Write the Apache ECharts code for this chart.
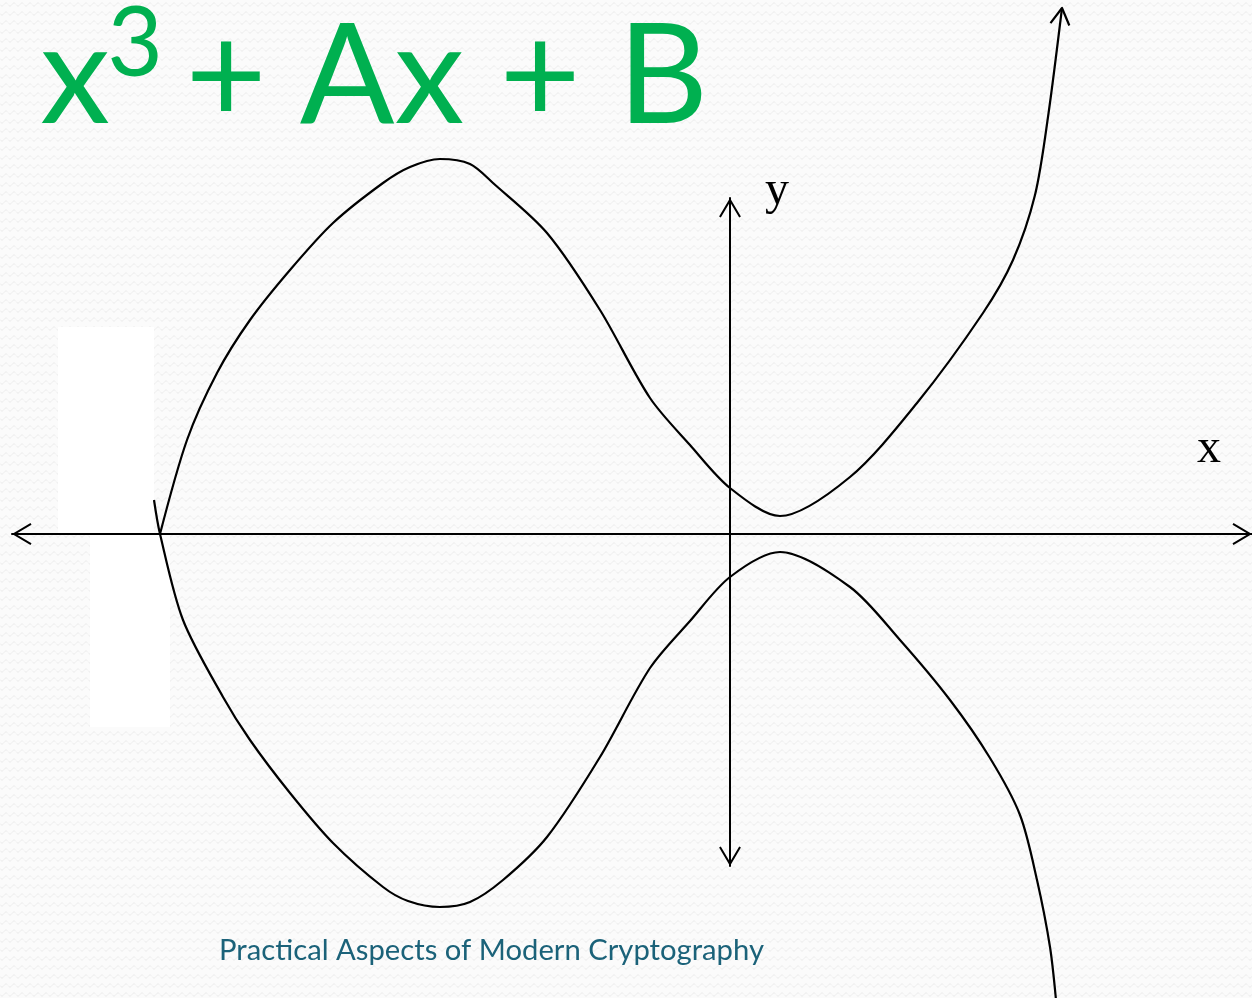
<!DOCTYPE html>
<html><head><meta charset="utf-8">
<script src="https://cdn.jsdelivr.net/npm/echarts@6/dist/echarts.min.js"></script>
<style>html,body{margin:0;padding:0;background:#fafafa}#c{width:1252px;height:998px}</style>
</head><body><div id="c"></div>
<script>
// ---- text ----
const titleParts = ['x', '3', '+', 'Ax', '+', 'B'];
const footerText = 'Practical Aspects of Modern Cryptography';
const xAxisName = 'x';
const yAxisName = 'y';

// ---- axis extents (data units, origin at the axes crossing) ----
const xRange = [-7.18, 5.22];
const yRange = [-3.32, 3.36];

// ---- hand-drawn curve, upper branch ----
const upperX = [-5.70, -5.43, -5.13, -4.80, -4.40, -3.97, -3.47, -3.20, -2.90, -2.60, -2.37, -1.83, -1.30, -0.80, -0.40, 0.00, 0.50, 1.20, 1.87, 2.53, 2.83, 3.05, 3.18, 3.32];
const upperY = [0.00, 0.94, 1.61, 2.14, 2.64, 3.11, 3.51, 3.67, 3.75, 3.70, 3.51, 3.01, 2.24, 1.36, 0.89, 0.46, 0.18, 0.57, 1.31, 2.21, 2.74, 3.39, 4.17, 5.26];

// ---- hand-drawn curve, lower branch ----
const lowerX = [-5.76, -5.70, -5.47, -5.07, -4.80, -4.40, -3.97, -3.47, -3.22, -2.90, -2.60, -2.27, -1.83, -1.30, -0.80, -0.40, 0.00, 0.50, 1.20, 1.70, 2.20, 2.60, 2.90, 3.07, 3.20, 3.26];
const lowerY = [0.34, 0.00, -0.86, -1.63, -2.06, -2.59, -3.09, -3.53, -3.67, -3.73, -3.68, -3.46, -3.03, -2.23, -1.34, -0.87, -0.43, -0.18, -0.53, -1.06, -1.66, -2.24, -2.81, -3.46, -4.13, -4.66];

const zip = (xs, ys) => xs.map((x, i) => [x, ys[i]]);
const upper = zip(upperX, upperY);
const lower = zip(lowerX, lowerY);

// open arrow head at the end of the upper branch, derived from its last segment
function chevron(tip, prev, len, deg) {
  const dx = prev[0] - tip[0], dy = prev[1] - tip[1];
  const d = Math.hypot(dx, dy), ux = dx / d, uy = dy / d, a = deg * Math.PI / 180;
  const arm = s => [tip[0] + len * (ux * Math.cos(s * a) - uy * Math.sin(s * a)),
                    tip[1] + len * (ux * Math.sin(s * a) + uy * Math.cos(s * a))];
  return [arm(1), tip, arm(-1)];
}
const curveArrow = chevron(upper[upper.length - 1], upper[upper.length - 2], 0.19, 30);

// ---- background texture ----
const pat = document.createElement('canvas');
pat.width = 8; pat.height = 9;
(function () {
  const g = pat.getContext('2d');
  g.fillStyle = '#fbfbfb'; g.fillRect(0, 0, 8, 9);
  g.strokeStyle = '#ececec'; g.lineWidth = 1;
  g.beginPath();
  for (let x = 0; x <= 8; x += 0.5) {
    const y = 4.5 + 1.6 * Math.sin(x / 8 * 2 * Math.PI);
    if (x === 0) g.moveTo(x, y); else g.lineTo(x, y);
  }
  g.stroke();
})();

// footer font fitted to its width in the slide
const FOOT_FONT = 'Lato';
function fitSize(text, family, width, weight) {
  const c = document.createElement('canvas').getContext('2d');
  c.font = (weight || 'normal') + ' 100px ' + family;
  return 100 * width / c.measureText(text).width;
}
const footSize = fitSize(footerText, FOOT_FONT, 545);

const chev = 'path://M0,0 L10.9,18.5 L9.2,19.5 L0,3.9 L-9.2,19.5 L-10.9,18.5 Z';
const axisCommon = {
  type: 'value',
  axisLine: { show: true, onZero: true, lineStyle: { color: '#000', width: 2 },
              symbol: [chev, chev], symbolSize: [21.8, 19.5], symbolOffset: [9.75, -9.75] },
  axisTick: { show: false }, axisLabel: { show: false }, splitLine: { show: false }
};

const green = '#00b050';
const tFont = 'Lato';
const titleEls = [
  { t: titleParts[0], cx: 75, cy: 78, size: 140 },
  { t: titleParts[1], cx: 135, cy: 45, size: 96 },
  { t: titleParts[2], cx: 226, cy: 78, size: 140 },
  { t: titleParts[3], cx: 382, cy: 78, size: 140 },
  { t: titleParts[4], cx: 540, cy: 78, size: 140 },
  { t: titleParts[5], cx: 663, cy: 78, size: 140 }
].map(p => ({
  type: 'text', z: 10,
  style: { text: p.t, x: p.cx, y: p.cy, fill: green, font: 'normal ' + p.size + 'px ' + tFont,
           align: 'center', verticalAlign: 'middle' }
}));

const lineSeries = (data, smooth) => ({
  type: 'line', data: data, smooth: smooth,
  showSymbol: false, symbol: 'none', clip: false,
  lineStyle: { color: '#000', width: 2.2, join: 'round' }
});

const chart = echarts.init(document.getElementById('c'), null, { renderer: 'canvas' });
chart.setOption({
  animation: false,
  backgroundColor: { image: pat, repeat: 'repeat' },
  grid: { left: 12, right: 0, top: 198, bottom: 132, containLabel: false, outerBoundsMode: 'none' },
  xAxis: Object.assign({}, axisCommon, { min: xRange[0], max: xRange[1] }),
  yAxis: Object.assign({}, axisCommon, { min: yRange[0], max: yRange[1] }),
  graphic: [
    { type: 'rect', z: -1, shape: { x: 58, y: 327, width: 96, height: 207 }, style: { fill: '#ffffff' } },
    { type: 'rect', z: -1, shape: { x: 90, y: 534, width: 80, height: 193 }, style: { fill: '#ffffff' } },
    ...titleEls,
    { type: 'text', z: 10, style: { text: yAxisName, x: 777, y: 191, fill: '#000',
      font: 'normal 48px "Liberation Serif"', align: 'center', verticalAlign: 'middle' } },
    { type: 'text', z: 10, style: { text: xAxisName, x: 1209, y: 449, fill: '#000',
      font: 'normal 48px "Liberation Serif"', align: 'center', verticalAlign: 'middle' } },
    { type: 'text', z: 10, style: { text: footerText, x: 491.5, y: 951, fill: '#1b6279',
      font: 'normal ' + footSize.toFixed(2) + 'px ' + FOOT_FONT, align: 'center', verticalAlign: 'middle' } }
  ],
  series: [
    lineSeries(upper, 0.3),
    lineSeries(lower, 0.3),
    lineSeries(curveArrow, false)
  ]
});
</script>
</body></html>
